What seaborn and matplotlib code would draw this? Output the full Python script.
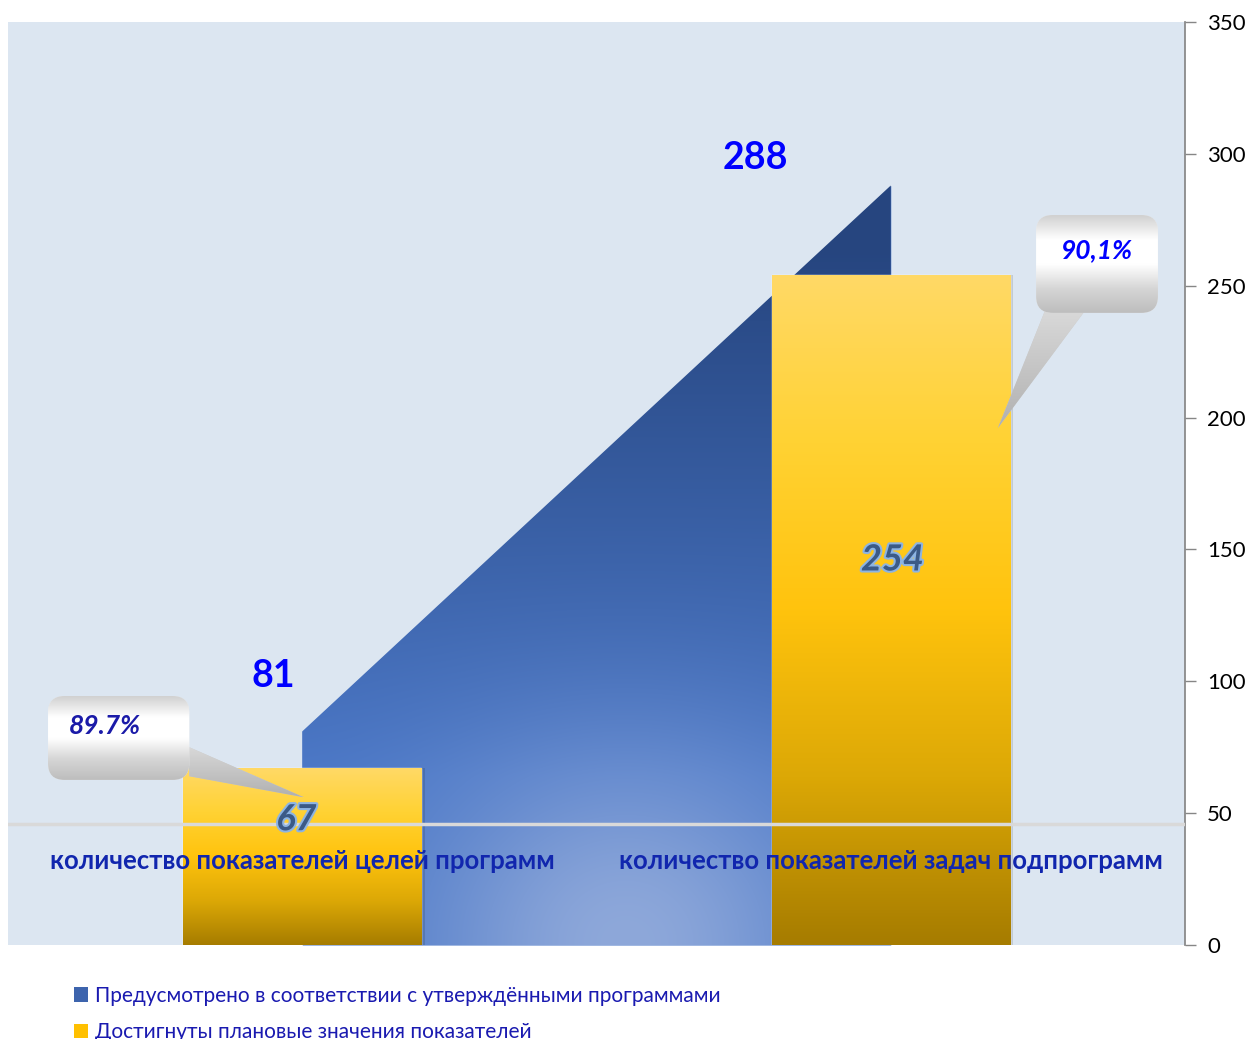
import numpy as np
import pandas as pd
import matplotlib
matplotlib.use('Agg')
import matplotlib.pyplot as plt
import seaborn as sns
import matplotlib.patheffects as pe
from matplotlib.colors import LinearSegmentedColormap, to_rgb
from matplotlib.patches import FancyBboxPatch, Polygon, Patch, Rectangle

# data
categories = ['количество показателей целей программ',
              'количество показателей задач подпрограмм']
planned = [81, 288]
achieved = [67, 254]
percent_labels = ['89.7%', '90,1%']
series_names = ['Предусмотрено в соответствии с утверждёнными программами',
                'Достигнуты плановые значения показателей']
y_ticks = [0, 50, 100, 150, 200, 250, 300, 350]

sns.set_theme(style='white')
plt.rcParams['font.family'] = ['Lato', 'DejaVu Sans']

fig = plt.figure(figsize=(12.5, 10.39), dpi=100)
ax = fig.add_axes([8 / 1250, 94 / 1039, 1177 / 1250, 923 / 1039])
ax.set_facecolor('#dce6f1')

x = np.arange(len(categories))


def vgrad(ax, clip, extent, colors, z):
    cmap = LinearSegmentedColormap.from_list('g', colors)
    arr = np.linspace(0, 1, 256).reshape(-1, 1)
    im = ax.imshow(arr, cmap=cmap, extent=extent, aspect='auto',
                   origin='upper', zorder=z, interpolation='bilinear')
    im.set_clip_path(clip)
    return im


# blue area (planned)
area = ax.fill_between(x, planned, 0, color='#4472c4', lw=0, zorder=1)
ny, nx = 200, 200
yy = np.linspace(1, 0, ny)[:, None] * np.ones((1, nx))
xx = np.ones((ny, 1)) * np.linspace(0, 1, nx)[None, :]
top_c = np.array(to_rgb('#26457f'))
mid_c = np.array(to_rgb('#4a77c7'))
hi_c = np.array(to_rgb('#8ea8da'))
t = np.clip((yy - 0.22) / 0.7, 0, 1)[..., None]
img = mid_c * (1 - t) + top_c * t
glow = np.exp(-((xx - 0.55) / 0.35) ** 2 - (yy / 0.25) ** 2)[..., None]
img = img * (1 - glow) + hi_c * glow
im = ax.imshow(img, extent=(0, 1, 0, max(planned)), aspect='auto',
               origin='upper', zorder=1.5, interpolation='bilinear')
im.set_clip_path(area.get_paths()[0], ax.transData)

# yellow bars (achieved)
df = pd.DataFrame({'cat': categories, 'val': achieved})
sns.barplot(data=df, x='cat', y='val', width=0.405, color='#ffc000',
            ax=ax, zorder=3, saturation=1)
for p in ax.patches:
    x0, w, h = p.get_x(), p.get_width(), p.get_height()
    ax.add_patch(Rectangle((x0 + 0.006, 0), w, h, facecolor='black',
                           alpha=0.12, lw=0, zorder=2.8))
    vgrad(ax, p, (x0, x0 + w, 0, h),
          ['#ffd966', '#ffd233', '#ffc30d', '#dca806', '#a67c00'], 3.5)

# category axis line
ax.axhline(46, color='#d9d9d9', lw=2.5, zorder=4)

# category labels
for i, c in enumerate(categories):
    ax.text(i, 32, c, ha='center', va='center', fontsize=18.5,
            weight='bold', color='#1126ae', zorder=6)

# planned value labels (offsets from category centre)
planned_off = [(-0.05, 21), (-0.23, 10.5)]
for i, (v, (dx, dy)) in enumerate(zip(planned, planned_off)):
    ax.text(i + dx, v + dy, str(v), ha='center', va='center', fontsize=27,
            weight='bold', color='#0000ff', zorder=6)

# achieved value labels
achieved_off = [(-0.01, -19.5), (0.003, -108)]
for i, (v, (dx, dy)) in enumerate(zip(achieved, achieved_off)):
    ax.text(i + dx, v + dy, str(v), ha='center', va='center', fontsize=26,
            weight='bold', style='italic', color='#3b5a86', zorder=6,
            path_effects=[pe.withStroke(linewidth=3, foreground='#8db4e2')])

# callouts (offsets from category centre)
boxes = [(-0.432, 62.6, 0.24, 31.8), (0.247, 239.7, 0.207, 37.1)]
tips = [[(-0.192, 75), (-0.192, 64), (0.003, 56)],
        [(0.262, 240.5), (0.33, 240.5), (0.182, 196)]]
pct_colors = ['#1a1aa8', '#0000ff']
text_fx = [0.4, 0.5]
asp = 588 / 2.637
for i, ((bx, by, bw, bh), tip, lab, col, fx) in enumerate(
        zip(boxes, tips, percent_labels, pct_colors, text_fx)):
    tip = [(i + qx, qy) for qx, qy in tip]
    bx = i + bx
    poly = Polygon(tip, closed=True, facecolor='#cccccc', lw=0, zorder=7)
    ax.add_patch(poly)
    xs = [q[0] for q in tip]
    ys = [q[1] for q in tip]
    vgrad(ax, poly, (min(xs), max(xs), min(ys), max(ys)),
          ['#d9d9d9', '#b0b0b0'], 7.2)
    box = FancyBboxPatch((bx, by), bw, bh,
                         boxstyle='round,pad=0,rounding_size=0.028',
                         mutation_aspect=asp, facecolor='#eeeeee', lw=0, zorder=7.5)
    ax.add_patch(box)
    vgrad(ax, box, (bx, bx + bw, by, by + bh),
          ['#d0d0d0', '#ffffff', '#ffffff', '#d6d6d6', '#bdbdbd'], 7.6)
    ax.text(bx + bw * fx, by + bh * 0.64, lab, ha='center', va='center',
            fontsize=19, weight='bold', style='italic', color=col, zorder=8)

# axes
ax.set_xlim(-0.5, 1.5)
ax.set_ylim(0, 350)
ax.set_xticks([])
ax.set_xlabel('')
ax.set_ylabel('')
ax.yaxis.tick_right()
ax.set_yticks(y_ticks)
ax.tick_params(axis='y', direction='out', length=8, width=1, color='#868686',
               labelsize=16, pad=8, labelcolor='black')
for s in ['left', 'top', 'bottom']:
    ax.spines[s].set_visible(False)
ax.spines['right'].set_color('#868686')

# legend
handles = [Patch(facecolor='#3d64ad', edgecolor='none'),
           Patch(facecolor='#ffc000', edgecolor='none')]
fig.legend(handles, series_names, loc='upper left',
           bbox_to_anchor=(55 / 1250, 1 - 967 / 1039), frameon=False,
           handlelength=0.7, handleheight=0.7, handletextpad=0.3,
           labelspacing=0.8, fontsize=15, labelcolor='#1a1ab0')

fig.savefig('out.png', dpi=100, facecolor='white')
